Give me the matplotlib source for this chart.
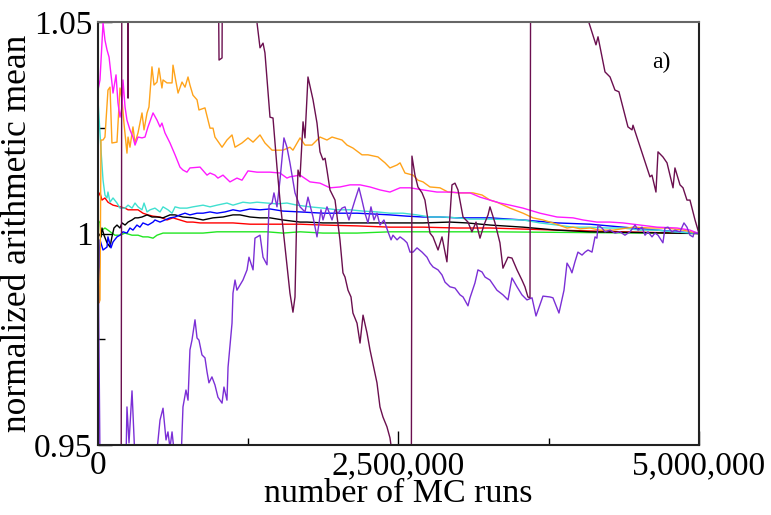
import matplotlib
matplotlib.use('Agg')
import matplotlib.pyplot as plt
from matplotlib.ticker import FuncFormatter, MultipleLocator

plt.rcParams['font.family'] = ['Liberation Serif', 'DejaVu Serif']

# (MC runs in millions, normalized arithmetic mean)
green = [(0, 1.0032), (0.0166, 1.0025), (0.025, 0.9992), (0.033, 1.0008), (0.058, 1.0013), (0.083, 1.0008),
         (0.116, 1.0001), (0.141, 0.9996), (0.183, 0.9996), (0.225, 1.0001), (0.283, 0.9996), (0.333, 0.9996),
         (0.374, 0.9992), (0.416, 0.9992), (0.458, 0.9989), (0.491, 0.9996), (0.541, 1.0001), (0.657, 1.0001),
         (0.765, 1.0001), (0.874, 1.0001), (0.990, 1.0004), (1.265, 1.0004), (1.406, 1.0004), (1.539, 1.0001),
         (1.681, 1.0004), (1.872, 1.0001), (2.155, 1.0001), (2.429, 1.0004), (3.261, 1.0004), (5.0, 1.0)]

red = [(0, 1.0086), (0.0166, 1.0096), (0.033, 1.0079), (0.058, 1.0084), (0.083, 1.0074), (0.125, 1.0067),
       (0.183, 1.0063), (0.225, 1.0060), (0.25, 1.0056), (0.291, 1.0056), (0.333, 1.0056), (0.374, 1.0048),
       (0.416, 1.0044), (0.458, 1.0041), (0.516, 1.0039), (0.574, 1.0032), (0.624, 1.0037), (0.682, 1.0032),
       (0.740, 1.0027), (0.790, 1.0027), (0.849, 1.0025), (0.990, 1.0025), (1.123, 1.0025), (1.265, 1.0022),
       (1.406, 1.0022), (1.539, 1.0022), (1.681, 1.0022), (1.872, 1.0020), (2.155, 1.0018), (2.429, 1.0015),
       (2.704, 1.0015), (2.987, 1.0013), (3.261, 1.0013), (3.819, 1.0008), (4.368, 1.0004), (5.0, 1.0)]

black = [(0, 1.0001), (0.025, 0.9992), (0.033, 1.0013), (0.05, 0.9996), (0.075, 0.9978), (0.10, 0.9968),
         (0.116, 0.9992), (0.133, 1.0013), (0.158, 1.0020), (0.183, 1.0013), (0.20, 1.0025), (0.225, 1.0020),
         (0.25, 1.0027), (0.283, 1.0032), (0.308, 1.0037), (0.333, 1.0037), (0.366, 1.0039), (0.408, 1.0044),
         (0.449, 1.0039), (0.491, 1.0039), (0.541, 1.0037), (0.599, 1.0044), (0.641, 1.0044), (0.707, 1.0039),
         (0.790, 1.0037), (0.874, 1.0032), (0.957, 1.0037), (1.040, 1.0039), (1.123, 1.0044), (1.181, 1.0044),
         (1.265, 1.0039), (1.348, 1.0037), (1.431, 1.0037), (1.539, 1.0032), (1.681, 1.0027), (1.739, 1.0027),
         (1.872, 1.0025), (2.155, 1.0025), (2.429, 1.0025), (2.704, 1.0025), (2.928, 1.0027), (3.070, 1.0025),
         (3.261, 1.0020), (3.536, 1.0015), (3.819, 1.0008), (4.093, 1.0004), (5.0, 1.0)]

blue = [(0, 1.0020), (0.0083, 0.9890), (0.0166, 0.9985), (0.042, 0.9961), (0.075, 0.9968), (0.083, 0.9992),
        (0.108, 0.9966), (0.125, 0.9980), (0.158, 0.9992), (0.183, 0.9996), (0.208, 1.0004), (0.241, 1.0001),
        (0.266, 1.0013), (0.291, 1.0008), (0.324, 1.0020), (0.349, 1.0015), (0.374, 1.0025), (0.416, 1.0020),
        (0.458, 1.0027), (0.474, 1.0032), (0.516, 1.0027), (0.557, 1.0032), (0.599, 1.0037), (0.641, 1.0039),
        (0.682, 1.0044), (0.724, 1.0048), (0.765, 1.0044), (0.824, 1.0048), (0.874, 1.0048), (0.932, 1.0051),
        (0.990, 1.0048), (1.057, 1.0051), (1.123, 1.0056), (1.181, 1.0053), (1.265, 1.0058), (1.348, 1.0056),
        (1.431, 1.0058), (1.539, 1.0053), (1.681, 1.0051), (1.872, 1.0048), (2.155, 1.0048), (2.296, 1.0046),
        (2.429, 1.0044), (2.571, 1.0041), (2.704, 1.0039), (2.845, 1.0039), (2.987, 1.0037), (3.261, 1.0037),
        (3.536, 1.0032), (3.819, 1.0025), (4.093, 1.0022), (4.368, 1.0015), (4.651, 1.0008), (5.0, 1.0)]

cyan = [(0, 1.0316), (0.025, 1.0197), (0.042, 1.0126), (0.058, 1.0091), (0.075, 1.0084), (0.083, 1.0098),
        (0.10, 1.0074), (0.125, 1.0084), (0.158, 1.0072), (0.183, 1.0060), (0.225, 1.0060), (0.25, 1.0067),
        (0.283, 1.0060), (0.308, 1.0072), (0.333, 1.0063), (0.366, 1.0056), (0.383, 1.0072), (0.408, 1.0051),
        (0.433, 1.0056), (0.474, 1.0060), (0.516, 1.0051), (0.541, 1.0063), (0.582, 1.0056), (0.616, 1.0048),
        (0.641, 1.0063), (0.682, 1.0060), (0.740, 1.0060), (0.790, 1.0063), (0.874, 1.0067), (0.932, 1.0063),
        (0.990, 1.0067), (1.073, 1.0072), (1.123, 1.0067), (1.206, 1.0074), (1.265, 1.0072), (1.323, 1.0074),
        (1.406, 1.0072), (1.489, 1.0070), (1.572, 1.0072), (1.656, 1.0067), (1.764, 1.0063), (1.872, 1.0060),
        (1.988, 1.0056), (2.097, 1.0056), (2.205, 1.0053), (2.321, 1.0051), (2.429, 1.0048), (2.537, 1.0048),
        (2.654, 1.0044), (2.762, 1.0039), (2.870, 1.0039), (2.987, 1.0037), (3.095, 1.0034), (3.261, 1.0034),
        (3.536, 1.0032), (3.677, 1.0025), (3.819, 1.0020), (3.952, 1.0015), (4.093, 1.0015), (4.235, 1.0013),
        (4.368, 1.0013), (4.509, 1.0008), (4.651, 1.0008), (4.784, 1.0004), (5.0, 1.0)]

orange = [(0, 0.9961), (0.0083, 0.9836), (0.0166, 0.9843), (0.025, 1.0221), (0.042, 1.0221), (0.058, 1.0228),
          (0.083, 1.0339), (0.10, 1.0346), (0.116, 1.0214), (0.158, 1.0216), (0.183, 1.0344), (0.20, 1.0316),
          (0.216, 1.0261), (0.241, 1.0190), (0.25, 1.0228), (0.266, 1.0204), (0.291, 1.0252), (0.308, 1.0214),
          (0.333, 1.0238), (0.366, 1.0285), (0.383, 1.0245), (0.408, 1.0285), (0.424, 1.0299), (0.449, 1.0394),
          (0.466, 1.0351), (0.491, 1.0358), (0.507, 1.0391), (0.532, 1.0344), (0.541, 1.0363), (0.574, 1.0356),
          (0.616, 1.0356), (0.624, 1.0398), (0.649, 1.0358), (0.666, 1.0332), (0.699, 1.0358), (0.724, 1.0346),
          (0.749, 1.0370), (0.765, 1.0351), (0.790, 1.0327), (0.824, 1.0316), (0.840, 1.0292), (0.890, 1.0297),
          (0.932, 1.0249), (0.957, 1.0249), (0.973, 1.0228), (1.032, 1.0204), (1.073, 1.0221), (1.115, 1.0233),
          (1.140, 1.0204), (1.198, 1.0214), (1.248, 1.0226), (1.290, 1.0216), (1.348, 1.0233), (1.389, 1.0214),
          (1.448, 1.0197), (1.539, 1.0197), (1.597, 1.0204), (1.622, 1.0197), (1.681, 1.0226), (1.722, 1.0209),
          (1.780, 1.0209), (1.847, 1.0228), (1.905, 1.0221), (1.947, 1.0228), (2.030, 1.0221), (2.072, 1.0209),
          (2.121, 1.0202), (2.196, 1.0186), (2.246, 1.0186), (2.329, 1.0181), (2.388, 1.0167), (2.429, 1.0155),
          (2.488, 1.0162), (2.513, 1.0167), (2.554, 1.0143), (2.621, 1.0138), (2.662, 1.0126), (2.704, 1.0122),
          (2.762, 1.0110), (2.845, 1.0108), (2.912, 1.0098), (3.012, 1.0096), (3.120, 1.0096), (3.195, 1.0091),
          (3.261, 1.0079), (3.319, 1.0074), (3.428, 1.0060), (3.536, 1.0048), (3.619, 1.0037), (3.702, 1.0032),
          (3.785, 1.0025), (3.902, 1.0013), (3.952, 1.0015), (4.010, 1.0011), (4.093, 1.0013), (4.176, 1.0008),
          (4.285, 1.0008), (4.451, 1.0015), (4.592, 1.0013), (4.734, 1.0013), (4.867, 1.0008), (5.0, 1.0)]

magenta = [(0, 1.0339), (0.0166, 1.0363), (0.042, 1.0498), (0.058, 1.0457), (0.075, 1.0434), (0.092, 1.0417),
           (0.116, 1.0356), (0.125, 1.0332), (0.15, 1.0375), (0.166, 1.0309), (0.183, 1.0275), (0.20, 1.0299),
           (0.208, 1.0363), (0.225, 1.0299), (0.241, 1.0268), (0.266, 1.0245), (0.291, 1.0228), (0.308, 1.0209),
           (0.333, 1.0228), (0.366, 1.0226), (0.391, 1.0228), (0.416, 1.0252), (0.458, 1.0285), (0.491, 1.0268),
           (0.516, 1.0252), (0.532, 1.0261), (0.557, 1.0238), (0.599, 1.0214), (0.641, 1.0186), (0.682, 1.0157),
           (0.707, 1.0150), (0.740, 1.0145), (0.765, 1.0155), (0.849, 1.0157), (0.907, 1.0138), (0.932, 1.0143),
           (0.973, 1.0138), (0.998, 1.0131), (1.040, 1.0138), (1.098, 1.0122), (1.156, 1.0131), (1.198, 1.0126),
           (1.248, 1.0148), (1.323, 1.0145), (1.431, 1.0145), (1.514, 1.0143), (1.572, 1.0131), (1.597, 1.0134),
           (1.681, 1.0138), (1.764, 1.0122), (1.847, 1.0119), (1.930, 1.0108), (2.013, 1.0110), (2.097, 1.0115),
           (2.180, 1.0115), (2.263, 1.0110), (2.346, 1.0103), (2.429, 1.0098), (2.513, 1.0108), (2.596, 1.0108),
           (2.704, 1.0103), (2.820, 1.0098), (2.928, 1.0098), (3.012, 1.0096), (3.095, 1.0096), (3.178, 1.0086),
           (3.344, 1.0072), (3.428, 1.0067), (3.536, 1.0060), (3.677, 1.0048), (3.819, 1.0039), (3.952, 1.0037),
           (4.035, 1.0032), (4.151, 1.0027), (4.260, 1.0027), (4.368, 1.0025), (4.509, 1.0020), (4.651, 1.0015),
           (4.817, 1.0013), (4.925, 1.0008), (5.0, 1.0)]

purple = [(0, 0.9996), (0.0166, 0.9464), (0.233, 0.9464), (0.241, 0.9590), (0.258, 0.9505), (0.283, 0.9628),
          (0.308, 0.9464), (0.483, 0.9464), (0.516, 0.9559), (0.541, 0.9587), (0.566, 0.9512), (0.582, 0.9531),
          (0.599, 0.9493), (0.616, 0.9531), (0.641, 0.9464), (0.691, 0.9464), (0.707, 0.9590), (0.732, 0.9630),
          (0.749, 0.9606), (0.765, 0.9725), (0.782, 0.9748), (0.807, 0.9796), (0.824, 0.9753), (0.840, 0.9748),
          (0.865, 0.9713), (0.890, 0.9706), (0.907, 0.9673), (0.923, 0.9647), (0.948, 0.9661), (0.973, 0.9642),
          (0.998, 0.9613), (1.032, 0.9599), (1.048, 0.9637), (1.073, 0.9606), (1.082, 0.9684), (1.115, 0.9788),
          (1.123, 0.9859), (1.140, 0.9890), (1.156, 0.9866), (1.206, 0.9890), (1.240, 0.9914), (1.256, 0.9944),
          (1.290, 0.9914), (1.306, 0.9989), (1.348, 0.9996), (1.373, 0.9944), (1.406, 0.9926), (1.423, 1.0067),
          (1.448, 1.0072), (1.464, 1.0096), (1.489, 1.0063), (1.514, 1.0126), (1.547, 1.0226), (1.572, 1.0204),
          (1.597, 1.0167), (1.639, 1.0096), (1.681, 1.0063), (1.722, 1.0051), (1.747, 1.0086), (1.789, 1.0039),
          (1.822, 0.9992), (1.855, 1.0056), (1.872, 1.0032), (1.905, 1.0063), (1.947, 1.0032), (1.972, 1.0056),
          (1.997, 1.0048), (2.030, 1.0060), (2.055, 1.0063), (2.088, 1.0032), (2.113, 1.0056), (2.138, 1.0079),
          (2.171, 1.0108), (2.196, 1.0079), (2.221, 1.0048), (2.246, 1.0025), (2.271, 1.0063), (2.296, 1.0032),
          (2.321, 1.0048), (2.346, 1.0020), (2.379, 1.0032), (2.413, 1.0004), (2.438, 0.9985), (2.454, 0.9996),
          (2.488, 0.9985), (2.513, 0.9992), (2.546, 0.9985), (2.571, 0.9978), (2.596, 0.9956), (2.621, 0.9956),
          (2.654, 0.9966), (2.696, 0.9956), (2.737, 0.9944), (2.762, 0.9930), (2.787, 0.9921), (2.829, 0.9914),
          (2.862, 0.9902), (2.887, 0.9885), (2.928, 0.9874), (2.970, 0.9871), (3.012, 0.9855), (3.037, 0.9850),
          (3.078, 0.9829), (3.095, 0.9848), (3.136, 0.9883), (3.161, 0.9914), (3.195, 0.9909), (3.220, 0.9897),
          (3.261, 0.9890), (3.319, 0.9866), (3.369, 0.9855), (3.411, 0.9843), (3.444, 0.9895), (3.486, 0.9874),
          (3.527, 0.9855), (3.569, 0.9843), (3.611, 0.9848), (3.644, 0.9805), (3.702, 0.9852), (3.760, 0.9850),
          (3.785, 0.9848), (3.835, 0.9812), (3.877, 0.9866), (3.902, 0.9930), (3.927, 0.9918), (3.943, 0.9907),
          (3.968, 0.9933), (3.993, 0.9956), (4.027, 0.9949), (4.052, 0.9956), (4.077, 0.9961), (4.110, 0.9956),
          (4.135, 0.9992), (4.151, 0.9989), (4.160, 1.0020), (4.193, 1.0013), (4.218, 1.0004), (4.260, 1.0008),
          (4.301, 1.0001), (4.343, 1.0004), (4.384, 0.9996), (4.426, 1.0004), (4.468, 1.0020), (4.493, 1.0008),
          (4.526, 1.0015), (4.551, 0.9996), (4.576, 1.0004), (4.609, 0.9992), (4.634, 1.0001), (4.659, 0.9996),
          (4.700, 0.9978), (4.717, 1.0013), (4.742, 1.0015), (4.775, 1.0004), (4.800, 1.0008), (4.842, 1.0004),
          (4.875, 1.0025), (4.900, 1.0015), (4.925, 0.9996), (4.950, 0.9992), (4.958, 1.0001), (5.0, 1.0)]

maroon = [(0, 0.90), (0.191, 0.90), (0.20, 1.10), (0.241, 1.10), (0.25, 1.0320), (0.258, 1.10),
          (0.990, 1.10), (1.007, 1.0410), (1.032, 1.0415), (1.040, 1.10), (1.298, 1.06), (1.323, 1.0498),
          (1.348, 1.0439), (1.373, 1.0450), (1.389, 1.0427), (1.431, 1.0275), (1.456, 1.0273), (1.489, 1.0157),
          (1.514, 1.0079), (1.556, 0.9968), (1.597, 0.9859), (1.622, 0.9814), (1.639, 0.9850), (1.656, 1.0079),
          (1.664, 1.0150), (1.681, 1.0134), (1.706, 1.0264), (1.722, 1.0226), (1.747, 1.0370), (1.789, 1.0316),
          (1.822, 1.0261), (1.847, 1.0193), (1.872, 1.0174), (1.889, 1.0178), (1.905, 1.0150), (1.930, 1.0103),
          (1.972, 1.0079), (2.013, 0.9985), (2.038, 0.9907), (2.055, 0.9897), (2.080, 0.9866), (2.105, 0.9850),
          (2.121, 0.9812), (2.155, 0.9788), (2.180, 0.9741), (2.205, 0.9807), (2.238, 0.9765), (2.263, 0.9725),
          (2.321, 0.9647), (2.346, 0.9590), (2.371, 0.9566), (2.404, 0.9543), (2.429, 0.9517), (2.446, 0.9483),
          (2.470, 0.93), (2.604, 0.90), (2.612, 1.0183), (2.637, 1.0138), (2.662, 1.0110), (2.696, 1.0096),
          (2.720, 1.0079), (2.762, 1.0001), (2.787, 0.9992), (2.829, 0.9961), (2.862, 0.9992), (2.903, 0.9933),
          (2.945, 1.0115), (2.970, 1.0119), (2.995, 1.0103), (3.037, 1.0039), (3.078, 1.0027), (3.111, 1.0004),
          (3.145, 1.0027), (3.178, 0.9989), (3.211, 1.0020), (3.245, 1.0044), (3.261, 1.0063), (3.303, 1.0025),
          (3.344, 0.9978), (3.369, 0.9918), (3.411, 0.9944), (3.444, 0.9942), (3.486, 0.9914), (3.527, 0.9890),
          (3.552, 0.9874), (3.577, 0.9850), (3.594, 0.9848), (3.602, 1.10), (4.010, 1.058), (4.085, 1.0498),
          (4.143, 1.0446), (4.160, 1.0465), (4.218, 1.0382), (4.260, 1.0370), (4.301, 1.0339), (4.334, 1.0335),
          (4.409, 1.0252), (4.443, 1.0245), (4.451, 1.0256), (4.592, 1.0134), (4.609, 1.0138), (4.642, 1.0098),
          (4.659, 1.0193), (4.700, 1.0181), (4.734, 1.0167), (4.784, 1.0108), (4.800, 1.0155), (4.842, 1.0115),
          (4.867, 1.0108), (4.900, 1.0079), (4.925, 1.0079), (4.967, 1.0032), (5.0, 1.0)]

series = [(green, '#22e622'), (red, '#ff0000'), (black, '#000000'), (blue, '#0000ff'),
          (cyan, '#40e0d0'), (orange, '#ffa31a'), (magenta, '#ff1aff'), (purple, '#7b2fd6'),
          (maroon, '#6b0f4f')]

fig = plt.figure(figsize=(7.71, 5.15), dpi=100)
ax = fig.add_axes([0.1271, 0.1359, 0.7795, 0.8214])

for data, color in series:
    xs = [p[0] * 1e6 for p in data]
    ys = [p[1] for p in data]
    ax.plot(xs, ys, color=color, lw=1.0)

ax.set_xlim(0, 5e6)
ax.set_ylim(0.95, 1.05)

ax.xaxis.set_major_locator(MultipleLocator(2.5e6))
ax.xaxis.set_minor_locator(MultipleLocator(1.25e6))
ax.yaxis.set_major_locator(MultipleLocator(0.05))
ax.yaxis.set_minor_locator(MultipleLocator(0.025))
ax.xaxis.set_major_formatter(FuncFormatter(lambda v, p: '{:,.0f}'.format(v)))
ax.yaxis.set_major_formatter(FuncFormatter(lambda v, p: '{:g}'.format(round(v, 3))))

ax.tick_params(which='major', direction='in', length=10, width=1.0, labelsize=24)
ax.tick_params(axis='x', which='major', pad=4)
ax.tick_params(axis='y', which='major', pad=4)
ax.tick_params(which='minor', direction='in', length=5, width=1.0)
ax.tick_params(top=False, right=False, which='both')

for s in ax.spines.values():
    s.set_linewidth(1.5)
    s.set_color('#222222')
ax.spines['top'].set_color('#666666')

ax.set_xlabel('number of MC runs', fontsize=24.5, labelpad=-2)
ax.set_ylabel('normalized arithmetic mean', fontsize=25.5, labelpad=0)
ax.text(0.937, 0.905, 'a)', transform=ax.transAxes, fontsize=17, ha='center', va='center')

fig.savefig('out.png', dpi=100)
